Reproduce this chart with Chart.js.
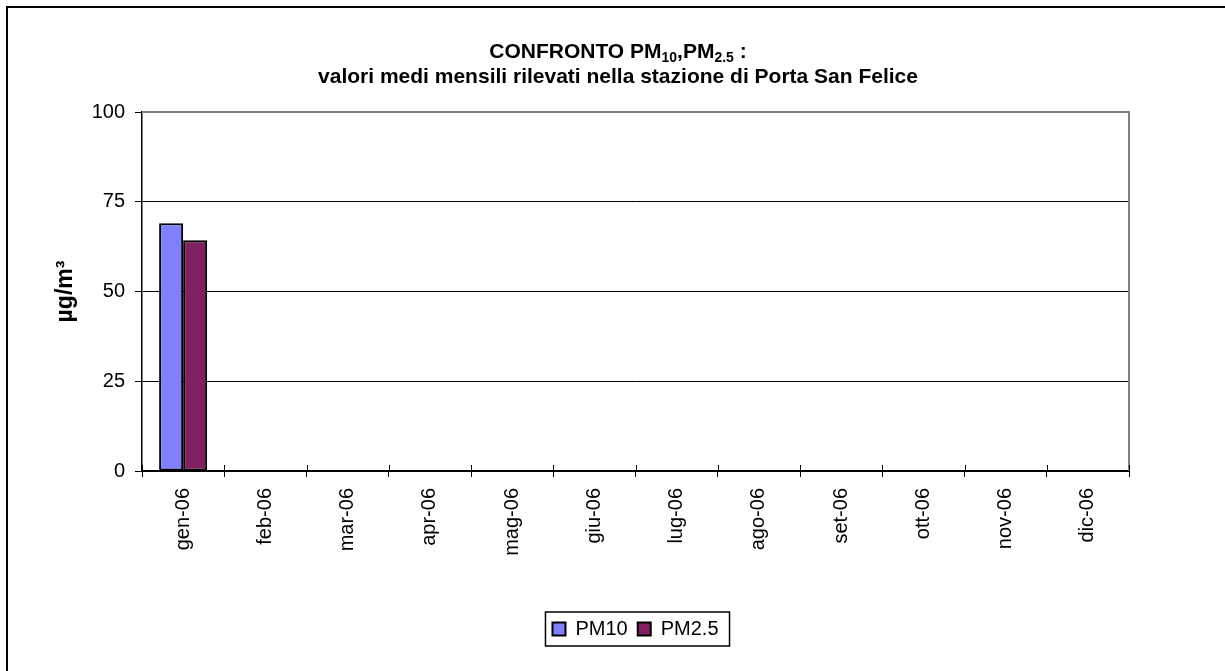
<!DOCTYPE html>
<html>
<head>
<meta charset="utf-8">
<script src="https://cdn.jsdelivr.net/npm/chart.js@4.4.0/dist/chart.umd.min.js"></script>
<style>
  html, body { margin: 0; padding: 0; background: #fff; }
  canvas { display: block; }
</style>
</head>
<body>
<canvas id="pm-chart" width="1225" height="671"></canvas>
<script>
// months on the x axis
const months = ['gen-06', 'feb-06', 'mar-06', 'apr-06', 'mag-06', 'giu-06',
                'lug-06', 'ago-06', 'set-06', 'ott-06', 'nov-06', 'dic-06'];
// monthly means (µg/m3), only January measured
const pm10 = [69.0, null, null, null, null, null, null, null, null, null, null, null];
const pm25 = [64.3, null, null, null, null, null, null, null, null, null, null, null];
const yTicks = [0, 25, 50, 75, 100];
const seriesNames = ['PM10', 'PM2.5'];

const FONT = "'Liberation Sans', Arial, sans-serif";
Chart.defaults.font.family = FONT;
Chart.defaults.color = '#000';

// title with subscripts, outer frame, plot border, legend frame
const decorations = {
  id: 'decorations',
  afterDraw(chart) {
    const ctx = chart.ctx;
    const area = chart.chartArea;
    const xs = chart.scales.x;
    ctx.save();

    // outer frame (only top and left are visible in the crop)
    ctx.strokeStyle = '#000';
    ctx.lineWidth = 2;
    ctx.beginPath();
    ctx.moveTo(7, chart.height);
    ctx.lineTo(7, 7);
    ctx.lineTo(chart.width, 7);
    ctx.stroke();

    // grey plot border on top and right
    ctx.strokeStyle = '#808080';
    ctx.lineWidth = 2;
    ctx.beginPath();
    ctx.moveTo(area.left, area.top);
    ctx.lineTo(area.right, area.top);
    ctx.lineTo(area.right, area.bottom);
    ctx.stroke();

    // x tick marks cross the axis, draw the part above it
    const half = (xs.getPixelForValue(1) - xs.getPixelForValue(0)) / 2;
    ctx.strokeStyle = '#000';
    ctx.lineWidth = 1;
    ctx.beginPath();
    for (let i = 0; i <= months.length; i++) {
      const px = Math.round(xs.getPixelForValue(0) - half + i * half * 2) + 0.5;
      ctx.moveTo(px, area.bottom - 6);
      ctx.lineTo(px, area.bottom);
    }
    ctx.stroke();

    // title
    const cx = 618;
    const big = 'bold 21px ' + FONT;
    const small = 'bold 14px ' + FONT;
    const parts = [
      ['CONFRONTO PM', big, 0], ['10', small, 4], [',PM', big, 0], ['2.5', small, 4], [' :', big, 0]
    ];
    let total = 0;
    parts.forEach(p => { ctx.font = p[1]; total += ctx.measureText(p[0]).width; });
    let x = cx - total / 2;
    ctx.fillStyle = '#000';
    ctx.textAlign = 'left';
    ctx.textBaseline = 'alphabetic';
    parts.forEach(p => {
      ctx.font = p[1];
      ctx.fillText(p[0], x, 58 + p[2]);
      x += ctx.measureText(p[0]).width;
    });
    ctx.font = big;
    ctx.textAlign = 'center';
    ctx.fillText('valori medi mensili rilevati nella stazione di Porta San Felice', cx, 83);

    // frame round the legend
    const hb = chart.legend.legendHitBoxes;
    if (hb && hb.length) {
      const first = hb[0];
      const last = hb[hb.length - 1];
      ctx.strokeStyle = '#000';
      ctx.lineWidth = 1.5;
      ctx.strokeRect(first.left - 7, first.top - 7,
                     last.left + last.width + 11 - (first.left - 7),
                     first.height + 14);
    }
    ctx.restore();
  }
};

new Chart(document.getElementById('pm-chart'), {
  type: 'bar',
  data: {
    labels: months,
    datasets: [{
      label: seriesNames[0],
      data: pm10,
      backgroundColor: '#8080FF',
      borderColor: '#000',
      borderWidth: 2,
      borderSkipped: false
    }, {
      label: seriesNames[1],
      data: pm25,
      backgroundColor: '#802060',
      borderColor: '#000',
      borderWidth: 2,
      borderSkipped: false
    }]
  },
  options: {
    responsive: false,
    animation: false,
    layout: { padding: { top: 112, right: 96, bottom: 22, left: 0 } },
    datasets: {
      bar: { categoryPercentage: 0.584, barPercentage: 1.0 }
    },
    scales: {
      x: {
        grid: { drawOnChartArea: false, drawTicks: true, tickLength: 6, color: '#000' },
        border: { color: '#000', width: 2 },
        ticks: { font: { size: 20 }, maxRotation: 90, minRotation: 90, padding: 11, color: '#000' },
        afterFit: s => { s.height = 138; }
      },
      y: {
        min: 0,
        max: 100,
        afterBuildTicks: s => { s.ticks = yTicks.map(v => ({ value: v })); },
        grid: { color: '#000', lineWidth: 1, tickLength: 7 },
        border: { color: '#000', width: 1.5 },
        ticks: { font: { size: 20 }, padding: 10, color: '#000' },
        title: {
          display: true,
          text: 'µg/m³',
          font: { size: 23, weight: 'bold' },
          padding: { top: 52 },
          color: '#000'
        },
        afterFit: s => { s.width = 142; }
      }
    },
    plugins: {
      legend: {
        position: 'bottom',
        fullSize: false,
        labels: {
          font: { size: 20 },
          boxWidth: 13,
          boxHeight: 13,
          padding: 10,
          color: '#000'
        }
      },
      tooltip: { enabled: false }
    }
  },
  plugins: [decorations]
});
</script>
</body>
</html>
